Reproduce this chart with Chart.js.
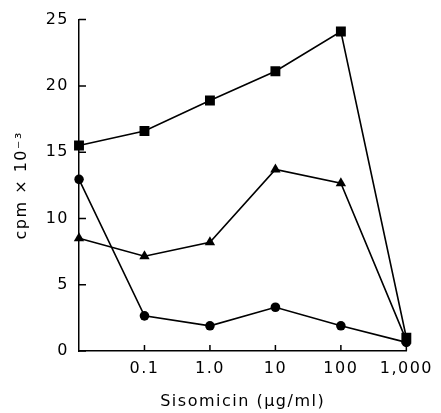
<!DOCTYPE html>
<html>
<head>
<meta charset="utf-8">
<script src="https://cdn.jsdelivr.net/npm/chart.js@4.4.1/dist/chart.umd.min.js"></script>
<style>
  html, body { margin: 0; padding: 0; background: #fff; }
  #wrap { width: 441px; height: 413px; }
</style>
</head>
<body>
<div id="wrap"><canvas id="c" width="441" height="413"></canvas></div>
<script>
// Sisomicin concentrations (first point = control, no label)
const categories = ['control', '0.1', '1.0', '10', '100', '1,000'];
const tickLabels = ['', '0.1', '1.0', '10', '100', '1,000'];
const squareSeries = [15.5, 16.6, 18.9, 21.1, 24.1, 1.0];
const triangleSeries = [8.5, 7.15, 8.2, 13.7, 12.65, 0.8];
const circleSeries = [12.95, 2.65, 1.9, 3.3, 1.9, 0.65];
const yTicks = [0, 5, 10, 15, 20, 25];

const FONT = 'DejaVu Sans';
const SPACING = '1.5px';

const innerTicks = {
  id: 'innerTicks',
  beforeUpdate(chart) { chart.ctx.letterSpacing = SPACING; },
  beforeLayout(chart) { chart.ctx.letterSpacing = SPACING; },
  beforeDraw(chart) { chart.ctx.letterSpacing = SPACING; },
  beforeDatasetsDraw(chart) {
    const ctx = chart.ctx;
    const xs = chart.scales.x, ys = chart.scales.y;
    ctx.save();
    ctx.strokeStyle = '#000';
    ctx.lineWidth = 1.5;
    ctx.beginPath();
    for (let i = 1; i < categories.length; i++) {
      const px = xs.getPixelForValue(i);
      ctx.moveTo(px, ys.bottom);
      ctx.lineTo(px, ys.bottom - 6);
    }
    yTicks.forEach(v => {
      const py = ys.getPixelForValue(v);
      ctx.moveTo(xs.left, py);
      ctx.lineTo(xs.left + 7, py);
    });
    ctx.stroke();
    ctx.restore();
  }
};

new Chart(document.getElementById('c'), {
  type: 'line',
  data: {
    labels: categories,
    datasets: [
      { data: squareSeries, pointStyle: 'rect', pointRadius: 7 },
      { data: triangleSeries, pointStyle: 'triangle', pointRadius: 6 },
      { data: circleSeries, pointStyle: 'circle', pointRadius: 4.8 }
    ].map(d => Object.assign({
      borderColor: '#000', backgroundColor: '#000', borderWidth: 1.6,
      pointBorderWidth: 0, pointBackgroundColor: '#000', tension: 0, fill: false
    }, d))
  },
  plugins: [innerTicks],
  options: {
    responsive: false,
    animation: false,
    devicePixelRatio: 1,
    layout: { padding: { top: 19, right: 29, left: 0, bottom: 0 } },
    plugins: { legend: { display: false }, tooltip: { enabled: false } },
    scales: {
      x: {
        type: 'category',
        offset: false,
        grid: { display: false, drawTicks: false },
        border: { display: true, color: '#000', width: 1.5 },
        ticks: {
          autoSkip: false, maxRotation: 0, padding: 8, color: '#000',
          font: { family: FONT, size: 16 },
          callback: (v, i) => tickLabels[i]
        },
        title: {
          display: true, text: 'Sisomicin (μg/ml)', color: '#000',
          font: { family: FONT, size: 16 }, padding: { top: 0, bottom: 2 }
        },
        afterFit(s) { s.height = 62; }
      },
      y: {
        min: 0, max: 25,
        grid: { display: false, drawTicks: false },
        border: { display: true, color: '#000', width: 1.5 },
        afterBuildTicks(s) { s.ticks = yTicks.map(v => ({ value: v })); },
        ticks: {
          padding: 10, color: '#000',
          font: { family: FONT, size: 16 }
        },
        title: {
          display: true, text: 'cpm × 10⁻³', color: '#000',
          font: { family: FONT, size: 16 }, padding: { top: 12, bottom: 0 }
        },
        afterFit(s) { s.width = 79; }
      }
    }
  }
});
</script>
</body>
</html>
